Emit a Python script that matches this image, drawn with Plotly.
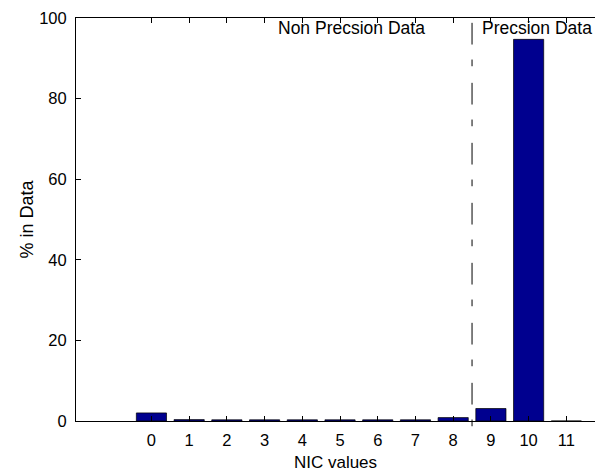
import plotly.graph_objects as go

# ---- data ----
nic_values = list(range(12))
pct_in_data = [2.0, 0.35, 0.3, 0.3, 0.3, 0.3, 0.3, 0.3, 0.85, 3.1, 94.7, 0.0]
x_tick_vals = list(range(12))
y_tick_vals = [0, 20, 40, 60, 80, 100]
separator_x = 8.5
region_labels = ["Non Precsion Data", "Precsion Data"]
region_label_x = [3.3, 8.7]
region_label_y = [97.4, 97.4]

FONT = "Liberation Sans, Arial, Helvetica, sans-serif"

fig = go.Figure(
    go.Bar(
        x=nic_values,
        y=pct_in_data,
        width=0.8,
        marker=dict(color="#00008F", line=dict(color="black", width=0.7)),
        showlegend=False,
        hoverinfo="skip",
    )
)

fig.update_layout(
    width=595,
    height=474,
    margin=dict(l=76, r=0, t=18, b=53, pad=0),
    paper_bgcolor="white",
    plot_bgcolor="white",
    font=dict(family=FONT, size=16.5, color="black"),
    xaxis=dict(
        range=[-2, 11.76],
        tickmode="array",
        tickvals=x_tick_vals,
        ticktext=[str(v) for v in x_tick_vals],
        showline=True,
        linecolor="black",
        linewidth=1,
        mirror="ticks",
        ticks="inside",
        ticklen=5,
        tickcolor="black",
        tickwidth=1,
        showgrid=False,
        zeroline=False,
        title=dict(text="NIC values", font=dict(size=17), standoff=8),
        ticklabelstandoff=4,
    ),
    yaxis=dict(
        range=[0, 100],
        tickmode="array",
        tickvals=y_tick_vals,
        ticktext=[str(v) for v in y_tick_vals],
        showline=True,
        linecolor="black",
        linewidth=1,
        ticks="inside",
        ticklen=5,
        tickcolor="black",
        tickwidth=1,
        showgrid=False,
        zeroline=False,
        title=dict(text="% in Data", font=dict(size=18), standoff=0),
        ticklabelstandoff=5,
    ),
    bargap=0.2,
)

for txt, xv, yv in zip(region_labels, region_label_x, region_label_y):
    fig.add_annotation(
        x=xv, y=yv, xref="x", yref="y", text=txt, showarrow=False,
        xanchor="left", yanchor="middle", font=dict(size=17.5, family=FONT, color="black"),
    )

fig.add_shape(
    type="line", xref="x", yref="paper",
    x0=separator_x, x1=separator_x, y0=0.988, y1=-0.015,
    line=dict(color="black", width=1, dash="21.7px,15px,6.7px,16.6px"),
)

fig.write_html(
    "out.html",
    config={"displayModeBar": False},
    post_script="document.body.style.margin='0';document.body.style.padding='0';document.documentElement.style.overflow='hidden';",
)
